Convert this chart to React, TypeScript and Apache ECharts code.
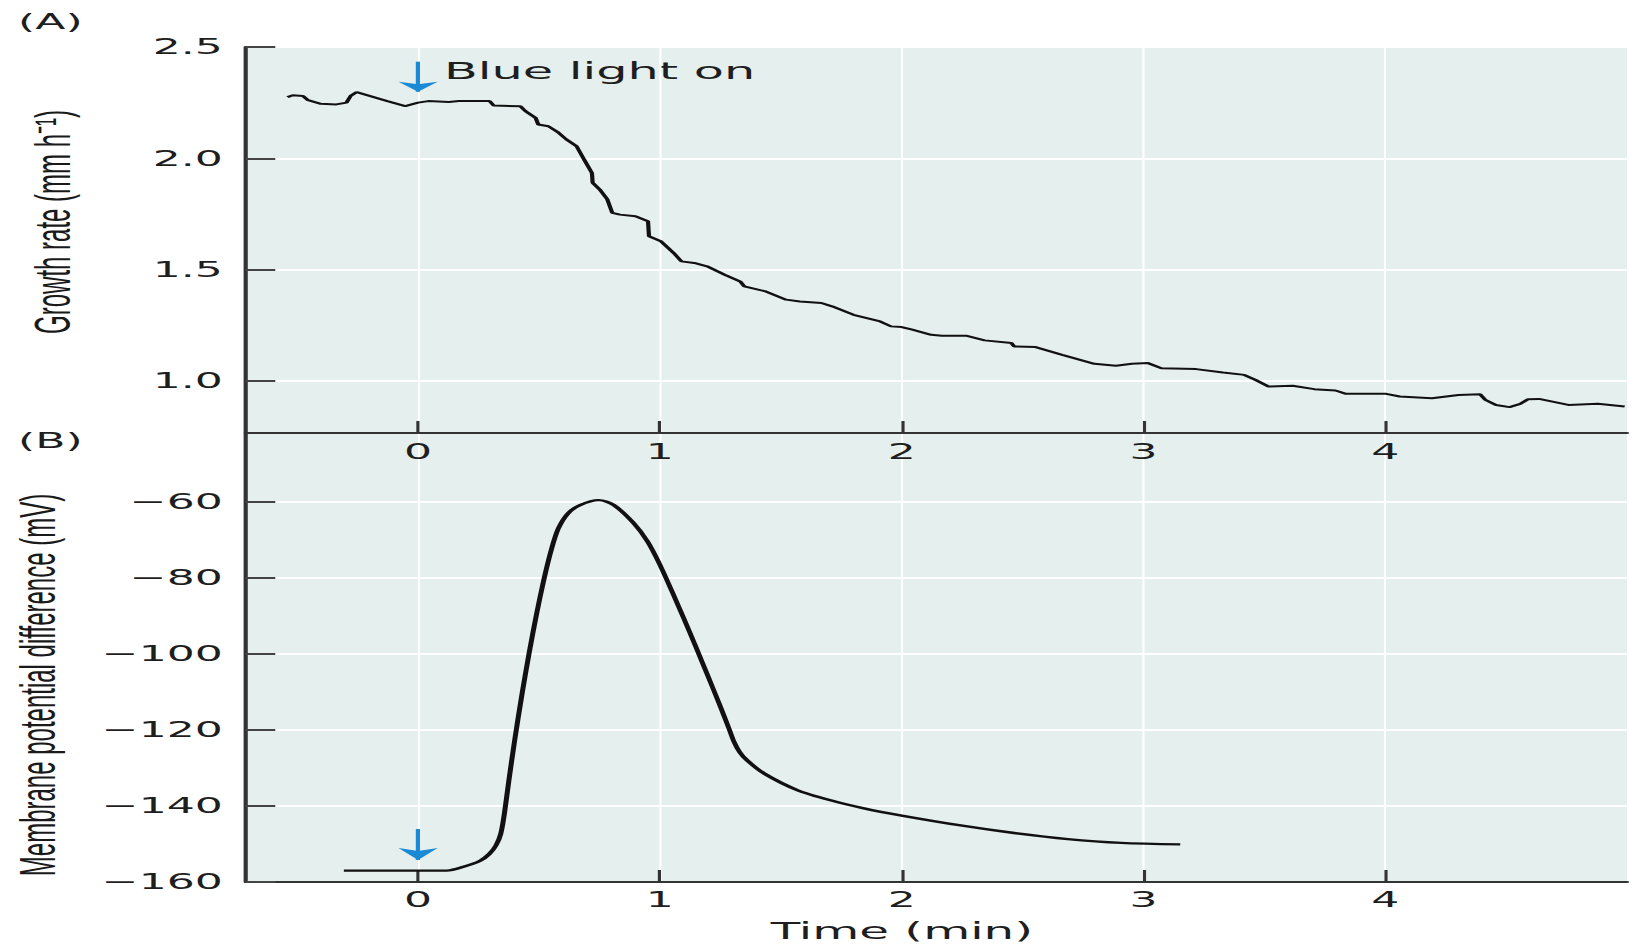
import React, { useEffect, useRef } from "react";
import * as echarts from "echarts";

// ---- data ----
const growthTime = [-0.54, -0.518, -0.476, -0.455, -0.402, -0.338, -0.296, -0.279, -0.254, -0.222, -0.127, -0.053, 0, 0.042, 0.127, 0.169, 0.296, 0.313, 0.423, 0.444, 0.486, 0.497, 0.539, 0.581, 0.613, 0.655, 0.687, 0.719, 0.722, 0.751, 0.782, 0.803, 0.835, 0.899, 0.951, 0.955, 1.004, 1.057, 1.089, 1.142, 1.195, 1.268, 1.332, 1.349, 1.438, 1.522, 1.579, 1.668, 1.712, 1.801, 1.911, 1.956, 2.0, 2.044, 2.122, 2.166, 2.266, 2.343, 2.454, 2.465, 2.554, 2.664, 2.797, 2.886, 2.952, 3.019, 3.074, 3.218, 3.329, 3.417, 3.462, 3.517, 3.617, 3.706, 3.794, 3.838, 4.004, 4.06, 4.193, 4.303, 4.392, 4.414, 4.458, 4.514, 4.558, 4.591, 4.636, 4.757, 4.879, 4.99];
const growthRate = [2.275, 2.283, 2.28, 2.261, 2.245, 2.242, 2.25, 2.28, 2.297, 2.287, 2.257, 2.234, 2.25, 2.257, 2.253, 2.257, 2.257, 2.237, 2.234, 2.212, 2.182, 2.152, 2.144, 2.115, 2.085, 2.055, 1.994, 1.934, 1.89, 1.86, 1.817, 1.755, 1.747, 1.74, 1.717, 1.65, 1.627, 1.575, 1.537, 1.53, 1.515, 1.477, 1.447, 1.425, 1.402, 1.365, 1.357, 1.35, 1.335, 1.297, 1.267, 1.245, 1.242, 1.23, 1.207, 1.203, 1.203, 1.182, 1.17, 1.155, 1.152, 1.117, 1.077, 1.068, 1.077, 1.08, 1.057, 1.053, 1.038, 1.027, 1.005, 0.975, 0.978, 0.963, 0.957, 0.942, 0.942, 0.93, 0.922, 0.937, 0.94, 0.915, 0.892, 0.882, 0.897, 0.918, 0.919, 0.892, 0.897, 0.885];

const potentialTime = [-0.307, 0.0, 0.119, 0.188, 0.257, 0.295, 0.322, 0.342, 0.357, 0.375, 0.4, 0.43, 0.46, 0.49, 0.52, 0.55, 0.58, 0.62, 0.67, 0.747, 0.809, 0.892, 0.95, 1.0, 1.05, 1.1, 1.15, 1.2, 1.25, 1.285, 1.306, 1.33, 1.361, 1.43, 1.568, 1.706, 1.844, 2.0, 2.244, 2.465, 2.687, 2.908, 3.152];
const potentialMv = [-157, -157, -157, -156.0, -154.4, -152.6, -150.4, -147.3, -142.0, -133.5, -122.5, -110.5, -99.5, -89.5, -80.5, -72.8, -67, -63, -60.8, -59.5, -60.8, -65.6, -70.5, -76.5, -83.5, -90.8, -98.3, -106, -113.8, -119.5, -123, -125.8, -128, -131.4, -135.8, -138.5, -140.6, -142.5, -145.1, -147.1, -148.7, -149.7, -150.1];

const timeTicks = [0, 1, 2, 3, 4];
const growthTicks = [1.0, 1.5, 2.0, 2.5];
const potentialTicks = [-160, -140, -120, -100, -80, -60];

const arrowA = [[0, 2.434], [0, 2.299]];
const arrowB = [[0, -146.05], [0, -154.2]];

// the reference picture is stretched horizontally
const S = 2.1;
const W = 1637 / S;
const H = 947;

const TICK_FONT = "'DejaVu Sans', Verdana, sans-serif";
const NAME_FONT = "'Liberation Sans', Arial, sans-serif";
const BLUE = "#1a8ad6";
const BG = "#e5efed";

export default function App() {
  const ref = useRef<HTMLDivElement>(null);
  useEffect(() => {
    if (!ref.current) return;
    const chart = echarts.init(ref.current, undefined, { renderer: "svg" });

    const near = (v: number, list: number[]) => list.some((t) => Math.abs(t - v) < 1e-6);

    const xAxis = (gridIndex: number) => ({
      type: "value",
      gridIndex,
      min: -0.712,
      max: 5,
      minInterval: 1,
      maxInterval: 1,
      axisLine: { show: true, onZero: false, lineStyle: { color: "#333", width: 2 } },
      axisTick: { show: true, inside: true, length: 12, lineStyle: { color: "#333", width: 1.5 } },
      axisLabel: {
        margin: gridIndex === 0 ? 8 : 7,
        fontFamily: TICK_FONT,
        fontSize: 21,
        color: "#1e1e1e",
        showMinLabel: false,
        showMaxLabel: false,
        formatter: (v: number) => (near(v, timeTicks) ? String(Math.round(v)) : ""),
      },
      splitLine: { show: true, lineStyle: { color: "#ffffff", width: 1 } },
    });

    const yAxisBase = {
      type: "value",
      axisLine: { show: true, onZero: false, lineStyle: { color: "#333", width: 2 } },
      axisTick: { show: true, inside: true, length: 14, lineStyle: { color: "#444", width: 2 } },
      splitLine: { show: true, lineStyle: { color: "#ffffff", width: 2 } },
    };

    chart.setOption({
      animation: false,
      backgroundColor: "#ffffff",
      grid: [
        { left: 117.1, right: 5.2, top: 47, height: 386, show: true, backgroundColor: BG, borderWidth: 0, outerBoundsMode: "none" },
        { left: 117.1, right: 5.2, top: 433, height: 449, show: true, backgroundColor: BG, borderWidth: 0, outerBoundsMode: "none" },
      ],
      xAxis: [xAxis(0), xAxis(1)],
      yAxis: [
        {
          ...yAxisBase,
          gridIndex: 0,
          min: 0.766,
          max: 2.5,
          minInterval: 0.5,
          maxInterval: 0.5,
          axisLabel: {
            margin: 11,
            fontFamily: TICK_FONT,
            fontSize: 21,
            color: "#1e1e1e",
            showMinLabel: false,
            formatter: (v: number) => (near(v, growthTicks) ? v.toFixed(1) : ""),
          },
        },
        {
          ...yAxisBase,
          gridIndex: 1,
          min: -160,
          max: -41.84,
          minInterval: 20,
          maxInterval: 20,
          axisLabel: {
            margin: 11,
            fontFamily: TICK_FONT,
            fontSize: 21,
            color: "#1e1e1e",
            showMaxLabel: false,
            formatter: (v: number) => (near(v, potentialTicks) ? "\u2212" + Math.abs(Math.round(v)) : ""),
          },
        },
      ],
      series: [
        {
          type: "line",
          xAxisIndex: 0,
          yAxisIndex: 0,
          data: growthTime.map((t, i) => [t, growthRate[i]]),
          showSymbol: false,
          lineStyle: { color: "#111", width: 2 },
          z: 3,
          markLine: {
            silent: true,
            symbol: ["none", "arrow"],
            symbolSize: [14, 10],
            label: { show: false },
            lineStyle: { color: BLUE, width: 2, type: "solid" },
            data: [[{ coord: arrowA[0] }, { coord: arrowA[1] }]],
          },
        },
        {
          type: "line",
          xAxisIndex: 1,
          yAxisIndex: 1,
          data: potentialTime.map((t, i) => [t, potentialMv[i]]),
          showSymbol: false,
          smooth: 0.3,
          lineStyle: { color: "#111", width: 2.4 },
          z: 3,
          markLine: {
            silent: true,
            symbol: ["none", "arrow"],
            symbolSize: [14, 12],
            label: { show: false },
            lineStyle: { color: BLUE, width: 2, type: "solid" },
            data: [[{ coord: arrowB[0] }, { coord: arrowB[1] }]],
          },
        },
      ],
      graphic: [
        { type: "text", left: 8.6, top: 11, style: { text: "(A)", fontFamily: TICK_FONT, fontSize: 21, fill: "#1e1e1e" } },
        { type: "text", left: 8.6, top: 430, style: { text: "(B)", fontFamily: TICK_FONT, fontSize: 21, fill: "#1e1e1e" } },
        {
          type: "text",
          x: 211.4,
          y: 71,
          style: { text: "Blue light on", fontFamily: TICK_FONT, fontSize: 23.5, fill: "#1e1e1e", align: "left", verticalAlign: "middle" },
        },
        {
          type: "text",
          x: 429.5,
          y: 931,
          style: { text: "Time (min)", fontFamily: TICK_FONT, fontSize: 23, fill: "#1e1e1e", align: "center", verticalAlign: "middle" },
        },
        {
          type: "text",
          x: 24.8,
          y: 222,
          rotation: Math.PI / 2,
          style: { text: "Growth rate (mm h\u207B\u00B9)", fontFamily: NAME_FONT, fontSize: 24, fill: "#1a1a1a", align: "center", verticalAlign: "middle" },
        },
        {
          type: "text",
          x: 17.6,
          y: 685,
          rotation: Math.PI / 2,
          style: { text: "Membrane potential difference (mV)", fontFamily: NAME_FONT, fontSize: 24, fill: "#1a1a1a", align: "center", verticalAlign: "middle" },
        },
      ],
    });
    return () => chart.dispose();
  }, []);

  return (
    <div
      ref={ref}
      style={{
        position: "absolute",
        left: 0,
        top: 0,
        width: W,
        height: H,
        transform: `scaleX(${S})`,
        transformOrigin: "0 0",
      }}
    />
  );
}
